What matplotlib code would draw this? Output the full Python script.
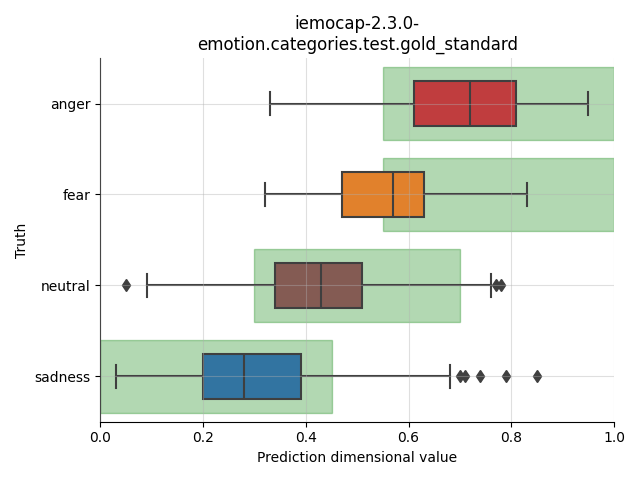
import matplotlib
matplotlib.use('Agg')
import matplotlib.pyplot as plt

# categories (top to bottom) and box statistics
categories = ['anger', 'fear', 'neutral', 'sadness']
whislo = [0.33, 0.32, 0.09, 0.03]
q1 = [0.61, 0.47, 0.34, 0.20]
med = [0.72, 0.57, 0.43, 0.28]
q3 = [0.81, 0.63, 0.51, 0.39]
whishi = [0.95, 0.83, 0.76, 0.68]
fliers = [[], [], [0.05, 0.77, 0.78], [0.70, 0.71, 0.74, 0.79, 0.85]]
box_colors = ['#c03d3e', '#e1812c', '#845b53', '#3274a1']

# gold standard ranges (green bands)
gold_lo = [0.55, 0.55, 0.30, 0.00]
gold_hi = [1.00, 1.00, 0.70, 0.45]

line_col = '#3f3f3f'

fig, ax = plt.subplots(figsize=(6.4, 4.8), dpi=100)

pos = list(range(len(categories)))

# green bands behind the boxes
ax.barh(pos, [h - l for l, h in zip(gold_lo, gold_hi)], left=gold_lo, height=0.8,
        color='green', alpha=0.3, edgecolor='green', linewidth=1, zorder=1)

stats = []
for i in pos:
    stats.append(dict(whislo=whislo[i], q1=q1[i], med=med[i], q3=q3[i],
                      whishi=whishi[i], fliers=fliers[i]))

bp = ax.bxp(stats, positions=pos, widths=0.5, vert=False, patch_artist=True,
            boxprops=dict(edgecolor=line_col, linewidth=1.5),
            medianprops=dict(color=line_col, linewidth=1.5),
            whiskerprops=dict(color=line_col, linewidth=1.5),
            capprops=dict(color=line_col, linewidth=1.5),
            flierprops=dict(marker='d', markerfacecolor=line_col, markeredgecolor=line_col,
                            markersize=6))
for patch, c in zip(bp['boxes'], box_colors):
    patch.set_facecolor(c)
    patch.set_zorder(2)

ax.set_yticks(pos)
ax.set_yticklabels(categories)
ax.set_ylim(3.5, -0.5)
ax.set_xlim(0, 1)
ax.grid(True, alpha=0.4, zorder=5)
ax.set_axisbelow(False)
ax.spines['top'].set_visible(False)
ax.spines['right'].set_visible(False)

ax.set_xlabel('Prediction dimensional value')
ax.set_ylabel('Truth')
ax.set_title('iemocap-2.3.0-\nemotion.categories.test.gold_standard')

plt.tight_layout()
plt.savefig('out.png', dpi=100)
